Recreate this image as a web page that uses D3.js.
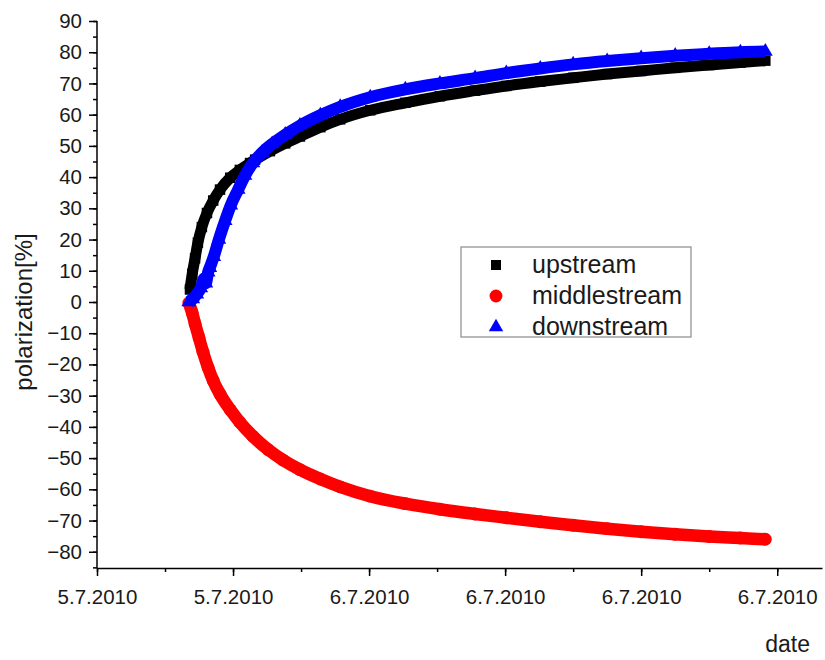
<!DOCTYPE html>
<html>
<head>
<meta charset="utf-8">
<script src="https://cdn.jsdelivr.net/npm/d3@7"></script>
<style>
    body { margin: 0; background: #fff; }
    svg { display: block; font-family: 'Liberation Sans', Arial, sans-serif; }
</style>
</head>
<body>
<svg width="825" height="660"></svg>
<script>
// series: [time, polarization %]
const upstream = [
    ['5.7.2010 18:44', 4], ['5.7.2010 18:48', 9], ['5.7.2010 18:53', 14], ['5.7.2010 18:58', 19],
    ['5.7.2010 19:05', 24], ['5.7.2010 19:14', 28.5], ['5.7.2010 19:25', 32.5], ['5.7.2010 19:37', 36],
    ['5.7.2010 19:55', 39.8], ['5.7.2010 20:12', 42.3], ['5.7.2010 20:30', 44.5], ['5.7.2010 20:39', 45.6],
    ['5.7.2010 21:05', 48.3], ['5.7.2010 21:32', 50.8], ['5.7.2010 21:58', 53], ['5.7.2010 22:34', 56],
    ['5.7.2010 23:09', 58.5], ['6.7.2010 00:02', 61.4], ['6.7.2010 01:04', 63.8], ['6.7.2010 02:05', 65.9],
    ['6.7.2010 03:07', 67.7], ['6.7.2010 04:02', 69.2], ['6.7.2010 05:02', 70.6], ['6.7.2010 06:00', 71.8],
    ['6.7.2010 07:00', 73], ['6.7.2010 08:00', 74], ['6.7.2010 09:00', 75], ['6.7.2010 10:00', 75.9],
    ['6.7.2010 10:55', 76.7], ['6.7.2010 11:39', 77.3]
];
const middlestream = [
    ['5.7.2010 18:42', -0.3], ['5.7.2010 18:48', -3.5], ['5.7.2010 18:53', -7], ['5.7.2010 19:00', -11.5],
    ['5.7.2010 19:07', -16], ['5.7.2010 19:16', -21], ['5.7.2010 19:25', -25.2], ['5.7.2010 19:37', -29.5],
    ['5.7.2010 19:55', -34.5], ['5.7.2010 20:12', -38.5], ['5.7.2010 20:35', -43], ['5.7.2010 21:02', -47.3],
    ['5.7.2010 21:28', -50.6], ['5.7.2010 21:58', -53.7], ['5.7.2010 22:34', -56.7], ['5.7.2010 23:09', -59.2],
    ['6.7.2010 00:02', -62.2], ['6.7.2010 01:04', -64.6], ['6.7.2010 02:05', -66.4], ['6.7.2010 03:07', -67.9],
    ['6.7.2010 04:02', -69.1], ['6.7.2010 05:02', -70.4], ['6.7.2010 06:00', -71.5], ['6.7.2010 07:00', -72.6],
    ['6.7.2010 08:00', -73.6], ['6.7.2010 09:00', -74.4], ['6.7.2010 10:00', -75.1], ['6.7.2010 10:55', -75.6],
    ['6.7.2010 11:39', -76]
];
const downstream = [
    ['5.7.2010 18:42', 0], ['5.7.2010 18:49', 1], ['5.7.2010 18:56', 2.5], ['5.7.2010 19:03', 4.5],
    ['5.7.2010 19:09', 7.5], ['5.7.2010 19:12', 6], ['5.7.2010 19:16', 9.5], ['5.7.2010 19:19', 11],
    ['5.7.2010 19:26', 14.5], ['5.7.2010 19:35', 20], ['5.7.2010 19:46', 26], ['5.7.2010 19:56', 31],
    ['5.7.2010 20:09', 36], ['5.7.2010 20:21', 40.5], ['5.7.2010 20:35', 44.5], ['5.7.2010 20:51', 47.8],
    ['5.7.2010 21:09', 50.6], ['5.7.2010 21:32', 53.6], ['5.7.2010 21:58', 56.5], ['5.7.2010 22:34', 59.8],
    ['5.7.2010 23:09', 62.5], ['6.7.2010 00:02', 65.6], ['6.7.2010 01:04', 68.1], ['6.7.2010 02:05', 70],
    ['6.7.2010 03:07', 71.7], ['6.7.2010 04:02', 73.3], ['6.7.2010 05:02', 74.8], ['6.7.2010 06:00', 76.1],
    ['6.7.2010 07:00', 77.2], ['6.7.2010 08:00', 78.1], ['6.7.2010 09:00', 78.9], ['6.7.2010 10:00', 79.5],
    ['6.7.2010 10:55', 80], ['6.7.2010 11:39', 80.2]
];

const seriesNames = ['upstream', 'middlestream', 'downstream'];
const seriesColors = ['#000000', '#ff0000', '#0000ff'];
const yTickValues = [-80, -70, -60, -50, -40, -30, -20, -10, 0, 10, 20, 30, 40, 50, 60, 70, 80, 90];
const xDomain = ['5.7.2010 16:00', '6.7.2010 13:19'];
const yDomain = [-85.2, 90];

const parseTime = d3.timeParse('%d.%m.%Y %H:%M');
const formatDate = d3.timeFormat('%-d.%-m.%Y');

const svg = d3.select('svg');
const width = +svg.attr('width');
const height = +svg.attr('height');

const render = () => {
    const margin = { top: 21, right: 3, bottom: 92, left: 97 };
    const innerWidth = width - margin.left - margin.right;
    const innerHeight = height - margin.top - margin.bottom;

    const xScale = d3.scaleTime()
        .domain(xDomain.map(parseTime))
        .range([0, innerWidth]);

    const yScale = d3.scaleLinear()
        .domain(yDomain)
        .range([innerHeight, 0]);

    const g = svg.append('g')
        .attr('transform', `translate(${margin.left}, ${margin.top})`);

    // minor ticks first, then major axes on top
    g.append('g')
        .attr('transform', `translate(0, ${innerHeight})`)
        .call(d3.axisBottom(xScale).ticks(d3.timeHour.every(2)).tickSize(4).tickSizeOuter(0).tickFormat(''))
        .call(a => a.select('.domain').remove());

    g.append('g')
        .call(d3.axisLeft(yScale).tickValues(d3.range(-85, 91, 5)).tickSize(4).tickSizeOuter(0).tickFormat(''))
        .call(a => a.select('.domain').remove());

    const xAxisG = g.append('g')
        .attr('transform', `translate(0, ${innerHeight})`)
        .call(d3.axisBottom(xScale)
            .ticks(d3.timeHour.every(4))
            .tickSize(8)
            .tickSizeOuter(0)
            .tickPadding(13)
            .tickFormat(formatDate));

    const yAxisG = g.append('g')
        .call(d3.axisLeft(yScale)
            .tickValues(yTickValues)
            .tickSize(8)
            .tickSizeOuter(0)
            .tickPadding(7));

    g.selectAll('.tick line, .domain')
        .attr('stroke', '#000')
        .attr('stroke-width', 1.5);

    g.selectAll('.tick text')
        .attr('fill', '#1a1a1a')
        .style('font-size', '20.5px')
        .style('font-family', "'Liberation Sans', Arial, sans-serif");

    // y axis line only runs up to 90
    yAxisG.select('.domain')
        .attr('d', `M0,${yScale(90)}V${innerHeight}`);

    const symbols = [d3.symbolSquare, d3.symbolCircle, d3.symbolTriangle];
    const symbolSizes = [110, 130, 95];
    const lineWidths = [11, 12.5, 12];

    const lineGenerator = d3.line()
        .x(d => xScale(parseTime(d[0])))
        .y(d => yScale(d[1]))
        .curve(d3.curveMonotoneX);

    [upstream, middlestream, downstream].forEach((series, i) => {
        const sg = g.append('g');
        sg.append('path')
            .attr('d', lineGenerator(series))
            .attr('stroke', seriesColors[i])
            .attr('stroke-width', lineWidths[i])
            .attr('stroke-linejoin', 'round')
            .attr('fill', 'none');
        sg.selectAll('path.pt')
            .data(series)
            .enter().append('path')
            .attr('class', 'pt')
            .attr('d', d3.symbol().type(symbols[i]).size(symbolSizes[i]))
            .attr('transform', d => `translate(${xScale(parseTime(d[0]))}, ${yScale(d[1])})`)
            .attr('fill', seriesColors[i]);
    });

    // legend
    const legend = svg.append('g')
        .attr('transform', 'translate(461, 247)');

    legend.append('rect')
        .attr('width', 230)
        .attr('height', 90)
        .attr('fill', '#fff')
        .attr('stroke', '#8a8a8a')
        .attr('stroke-width', 1.2);

    const legendSizes = [100, 130, 90];
    seriesNames.forEach((name, i) => {
        const row = legend.append('g')
            .attr('transform', `translate(35, ${18 + i * 31})`);
        row.append('path')
            .attr('d', d3.symbol().type(symbols[i]).size(legendSizes[i]))
            .attr('fill', seriesColors[i]);
        row.append('text')
            .attr('x', 36)
            .attr('y', 8)
            .attr('fill', '#1a1a1a')
            .style('font-size', '25px')
            .text(name);
    });

    // axis titles
    yAxisG.append('text')
        .attr('fill', '#1a1a1a')
        .attr('transform', 'rotate(-90)')
        .attr('x', -(312 - margin.top))
        .attr('y', 32 - margin.left)
        .style('text-anchor', 'middle')
        .style('font-size', '24px')
        .text('polarization[%]');

    svg.append('text')
        .attr('fill', '#1a1a1a')
        .attr('x', 810)
        .attr('y', 652)
        .style('text-anchor', 'end')
        .style('font-size', '23px')
        .text('date');
};

render();
</script>
</body>
</html>
